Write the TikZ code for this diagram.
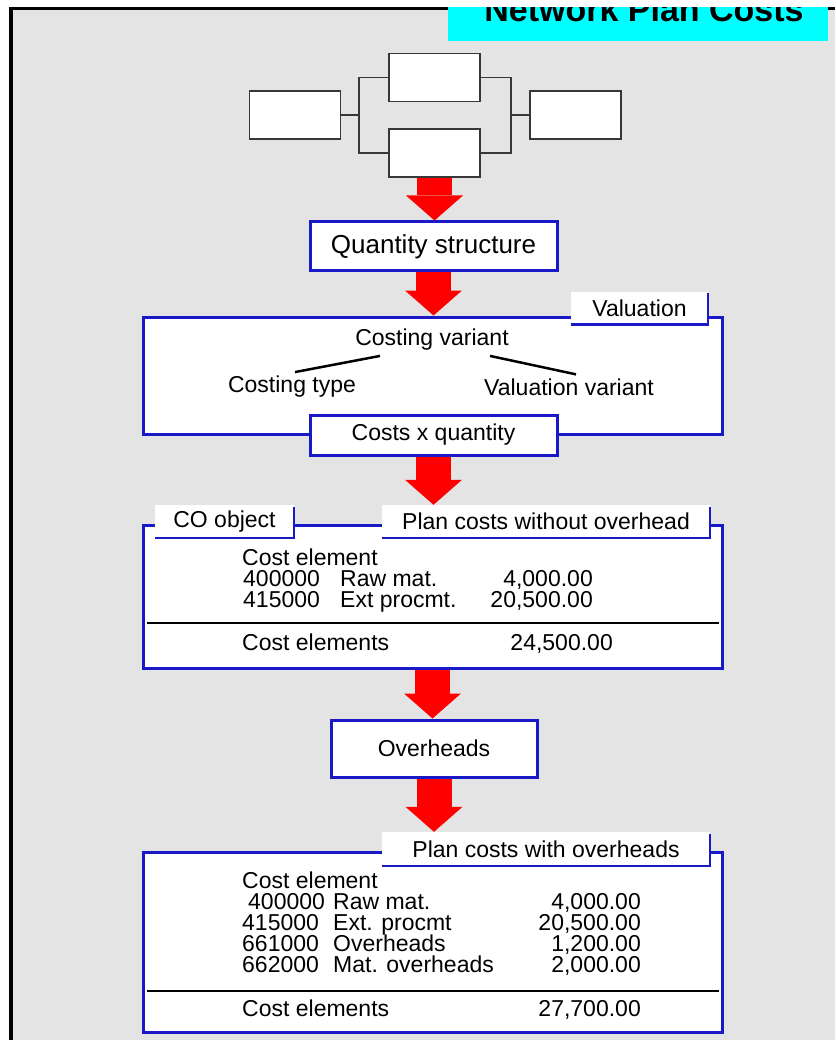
\documentclass[tikz,border=0pt]{standalone}
\usepackage{fontspec}
\setmainfont{Liberation Sans}
\usetikzlibrary{arrows.meta,positioning}
\definecolor{bgcol}{RGB}{228,228,228}
\definecolor{titlecol}{RGB}{0,255,255}
\definecolor{framecol}{RGB}{25,25,200}
\definecolor{netcol}{RGB}{55,55,55}

\begin{document}
\begin{tikzpicture}[x=1pt, y=-1pt,
    every node/.style={font=\fontsize{23}{21}\selectfont, inner sep=0pt},
    netbox/.style={draw=netcol, line width=1.6pt, fill=white, minimum width=91pt, minimum height=48pt},
    netline/.style={draw=netcol, line width=1.6pt},
    bluebox/.style={draw=framecol, line width=3pt, fill=white},
    costframe/.style={draw=framecol, line width=3pt, fill=white, minimum width=579pt},
    costtab/.style={fill=white, minimum height=33pt},
    tabedge/.style={draw=framecol, line width=2.5pt},
    flowarrow/.style={red, line width=35pt, -{Triangle[width=57pt,length=25pt,line width=0pt]}},
    twig/.style={line width=2.5pt},
    sumline/.style={line width=1.5pt}]
    \useasboundingbox (0,0) rectangle (835,1040);

    % page frame and title
    \fill[bgcol] (12,10) rectangle (835,1040);
    \draw[line width=3pt] (9,8.5) -- (835,8.5);
    \draw[line width=4pt] (11,7) -- (11,1040);
    \fill[titlecol] (448,7) rectangle (828,41);
    \begin{scope}
        \clip (448,7) rectangle (828,41);
        \node[font=\fontsize{34}{34}\selectfont\bfseries, anchor=base] (title) at (644,22) {Network Plan Costs};
    \end{scope}
    \fill[white] (440,0) rectangle (835,7);

    % network
    \node[netbox] (nL) at (295,115) {};
    \node[netbox] (nT) at (434.5,77.5) {};
    \node[netbox] (nB) at (434.5,153) {};
    \node[netbox] (nR) at (575.5,115) {};
    \coordinate (jL) at (359,115);
    \coordinate (jR) at (511,115);
    \draw[netline] (nL.east) -- (jL) (nT.west) -| (jL) (nB.west) -| (jL);
    \draw[netline] (nR.west) -- (jR) (nT.east) -| (jR) (nB.east) -| (jR);

    \node[bluebox, minimum width=247pt, minimum height=49pt, font=\fontsize{26}{26}\selectfont] (qty) at (433.5,246.5) {Quantity structure};
    \draw[flowarrow] (nB.south) -- (nB.south |- qty.north);

    % valuation
    \node[costframe, minimum height=117pt] (val) at (432.5,375.5) {};
    \node[costtab, minimum width=137pt] (valtab) at (639.5,308) {Valuation};
    \draw[tabedge] (valtab.south west) -- (valtab.south east) -- ([yshift=-2pt]valtab.north east);
    \draw[flowarrow] (qty.south) -- (qty.south |- val.north);

    \node (cvar) at (432,340) {Costing variant};
    \node (ctype) at (292,387) {Costing type};
    \node (vvar) at (569,387) {Valuation variant};
    \draw[twig] ([xshift=-52pt,yshift=-5pt]cvar.south) -- ([xshift=3pt,yshift=4pt]ctype.north);
    \draw[twig] ([xshift=58pt,yshift=-5pt]cvar.south) -- ([xshift=7pt,yshift=4pt]vvar.north);

    \node[bluebox, minimum width=247pt, minimum height=40pt] (cxq) at (433.5,435) {Costs x quantity};

    % plan costs without overhead
    \node[costframe, minimum height=143pt] (plan) at (432.5,596.5) {};
    \node[costtab, minimum width=139pt] (cotab) at (224.5,521.5) {CO object};
    \node[costtab, minimum width=328pt] (ptab) at (546,521.5) {Plan costs without overhead};
    \draw[tabedge] (cotab.south west) -- (cotab.south east) -- ([yshift=-2pt]cotab.north east);
    \draw[tabedge] (ptab.south west) -- (ptab.south east) -- ([yshift=-2pt]ptab.north east);
    \draw[flowarrow] (cxq.south) -- (cxq.south |- ptab.north);

    \node[anchor=base west] (pce) at (242,565) {Cost element};
    \foreach \code/\item/\amt [count=\i] in {400000/{Raw mat.}/{4,000.00}, 415000/{Ext procmt.}/{20,500.00}} {
        \node[anchor=base west] (pcode\i) at (243,{565+21*\i}) {\code};
        \node[anchor=base west] (pitem\i) at (340,{565+21*\i}) {\item};
        \node[anchor=base east] (pamt\i) at (593,{565+21*\i}) {\amt};
    }
    \draw[sumline] (147,623) -- (719,623);
    \node[anchor=base west] (psum) at (242,650) {Cost elements};
    \node[anchor=base east] (psumamt) at (613,650) {24,500.00};

    % overheads
    \node[bluebox, minimum width=206pt, minimum height=57pt] (ovh) at (434,748.5) {Overheads};
    \draw[flowarrow] (plan.south) -- (plan.south |- ovh.north);

    % plan costs with overheads
    \node[costframe, minimum height=180pt] (final) at (432.5,942) {};
    \node[costtab, minimum width=328pt, minimum height=34pt] (otab) at (546,849) {Plan costs with overheads};
    \draw[tabedge] (otab.south west) -- (otab.south east) -- ([yshift=-2pt]otab.north east);
    \draw[flowarrow] (ovh.south) -- (ovh.south |- otab.north);

    \node[anchor=base west] (oce) at (242,888) {Cost element};
    \foreach \code/\item/\amt [count=\i] in {{\kern6pt 400000}/{Raw mat.}/{4,000.00}, 415000/{Ext. procmt}/{20,500.00},
        661000/Overheads/{1,200.00}, 662000/{Mat. overheads}/{2,000.00}} {
        \node[anchor=base west] (ocode\i) at (242,{888+21*\i}) {\code};
        \node[anchor=base west] (oitem\i) at (333,{888+21*\i}) {\item};
        \node[anchor=base east] (oamt\i) at (641,{888+21*\i}) {\amt};
    }
    \draw[sumline] (147,991) -- (719,991);
    \node[anchor=base west] (osum) at (242,1016) {Cost elements};
    \node[anchor=base east] (osumamt) at (641,1016) {27,700.00};
\end{tikzpicture}
\end{document}
